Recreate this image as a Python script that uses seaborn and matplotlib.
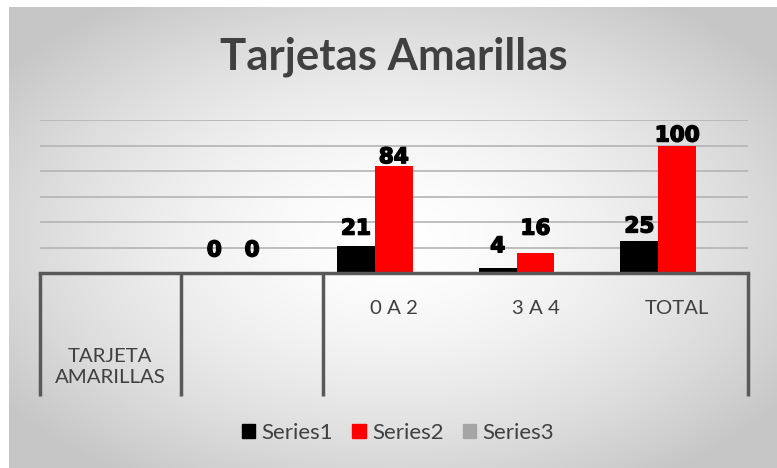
import matplotlib
matplotlib.use("Agg")
import matplotlib.pyplot as plt
import matplotlib.transforms as mtransforms
import matplotlib.patheffects as pe
from matplotlib.patches import Patch
import seaborn as sns
import pandas as pd
import numpy as np

CATEGORIES = ["c1", "c2", "0 A 2", "3 A 4", "TOTAL"]
INNER_LABELS = ["", "", "0 A 2", "3 A 4", "TOTAL"]
OUTER_LABEL = "TARJETA\nAMARILLAS"
SERIES = ["Series1", "Series2", "Series3"]
SERIES1 = [np.nan, 0, 21, 4, 25]
SERIES2 = [np.nan, 0, 84, 16, 100]
SERIES3 = [np.nan, np.nan, np.nan, np.nan, np.nan]
COLORS = ["#000000", "#ff0000", "#a5a5a5"]

# label offsets above the bar tops (points), as placed in the original
LABEL_PAD = {"Series1": [0, 12, 8.4, 11.3, 6.3], "Series2": [0, 12, 2, 13, 2.9]}

sns.set_style("white")
plt.rcParams["font.family"] = ["Lato", "DejaVu Sans"]

W, H = 777, 468
fig = plt.figure(figsize=(W / 100, H / 100), dpi=100)
fig.patch.set_facecolor("white")

# gradient chart area background
bg = fig.add_axes([9 / W, 0, 1 - 9 / W, 1 - 7 / H])
yy, xx = np.mgrid[0:1:300j, 0:1:500j]
r = np.sqrt(((xx - 0.5) / 0.62) ** 2 + ((yy - 0.5) / 0.62) ** 2)
shade = 1 - 0.22 * np.clip(r, 0, 1) ** 1.6
bg.imshow(np.dstack([shade] * 3), aspect="auto", extent=[0, 1, 0, 1])
bg.set_axis_off()

df = pd.DataFrame({
    "cat": CATEGORIES * 3,
    "series": sum([[s] * len(CATEGORIES) for s in SERIES], []),
    "value": SERIES1 + SERIES2 + SERIES3,
})

x0, x1 = 39.5 / W, 748 / W
y0, y1 = 1 - 273 / H, 1 - 120 / H
ax = fig.add_axes([x0, y0, x1 - x0, y1 - y0])
ax.patch.set_alpha(0)
sns.barplot(data=df, x="cat", y="value", hue="series", order=CATEGORIES,
            hue_order=SERIES, palette=COLORS, saturation=1, width=0.8,
            linewidth=0, legend=False, ax=ax)
ax.set_ylim(0, 120)
ax.set_xlim(-0.5, len(CATEGORIES) - 0.5)
ax.set_yticks(range(20, 121, 20))
ax.yaxis.grid(True, color="#b4b4b4", linewidth=1.2)
ax.set_axisbelow(True)
ax.tick_params(left=False, bottom=False, labelleft=False, labelbottom=False)
for side in ["left", "right", "top"]:
    ax.spines[side].set_visible(False)
ax.spines["bottom"].set_color("#595959")
ax.spines["bottom"].set_linewidth(2.5)
ax.set_xlabel("")
ax.set_ylabel("")

# data labels (seaborn skips the NaN bars, so pair bars with the kept values)
for cont, name in zip(ax.containers, SERIES):
    if name not in LABEL_PAD:
        continue
    vals = SERIES1 if name == "Series1" else SERIES2
    kept = [(v, p) for v, p in zip(vals, LABEL_PAD[name]) if not np.isnan(v)]
    for bar, (v, pad) in zip(cont, kept):
        ax.annotate(f"{int(v)}", (bar.get_x() + bar.get_width() / 2, bar.get_height()),
                    xytext=(0, pad), textcoords="offset points",
                    ha="center", va="baseline", fontsize=15.5, fontweight="bold",
                    family="DejaVu Sans", color="black",
                    path_effects=[pe.withStroke(linewidth=1.1, foreground="black")])

# multi-level category axis
trans = mtransforms.blended_transform_factory(ax.transData, ax.transAxes)
depth = (273 - 396) / 153
for b in [-0.5, 0.5, 1.5, len(CATEGORIES) - 0.5]:
    ax.plot([b, b], [0, depth], transform=trans, color="#595959", lw=2.5,
            clip_on=False, solid_capstyle="butt")
for i, lab in enumerate(INNER_LABELS):
    ax.text(i, (273 - 308) / 153, lab, transform=trans, ha="center", va="center",
            fontsize=14.7, color="#404040")
ax.text(0, (273 - 367) / 153, OUTER_LABEL, transform=trans, ha="center",
        va="center", fontsize=14.7, color="#404040", linespacing=1.3)

fig.text(394 / W, 1 - 57 / H, "Tarjetas Amarillas", ha="center", va="center",
         fontsize=31.5, fontweight="bold", color="#404040")

handles = [Patch(facecolor=c, edgecolor=c, label=s) for c, s in zip(COLORS, SERIES)]
fig.legend(handles=handles, loc="center", ncol=3, frameon=False,
           bbox_to_anchor=(398 / W, 1 - 433 / H), fontsize=16,
           handlelength=0.6, handleheight=0.6, handletextpad=0.3,
           columnspacing=0.85, labelcolor="#404040")

fig.savefig("out.png", dpi=100)
